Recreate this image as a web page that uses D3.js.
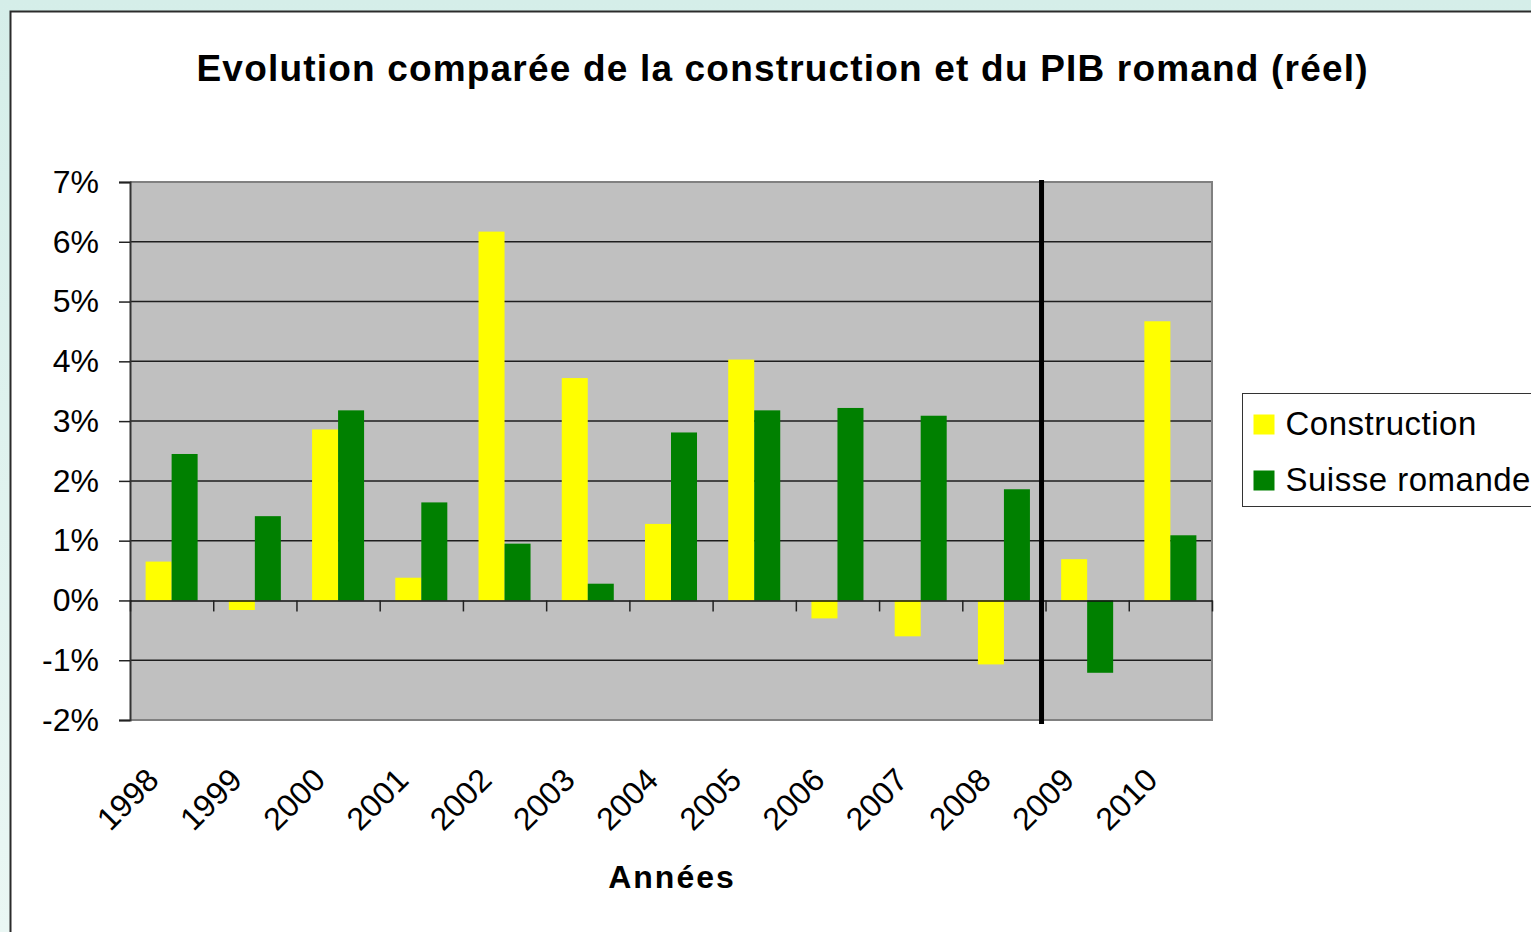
<!DOCTYPE html>
<html>
<head>
<meta charset="utf-8">
<script src="https://cdn.jsdelivr.net/npm/d3@7"></script>
<style>
  body { margin: 0; background: #d6efea; }
  svg { display: block; font-family: "Liberation Sans", Arial, sans-serif; }
</style>
</head>
<body>
<svg id="chart"></svg>
<script>
var years = ["1998", "1999", "2000", "2001", "2002", "2003", "2004", "2005", "2006", "2007", "2008", "2009", "2010"];
var construction = [0.65, -0.16, 2.86, 0.38, 6.17, 3.72, 1.28, 4.03, -0.3, -0.6, -1.07, 0.69, 4.67];
var romande = [2.45, 1.41, 3.18, 1.64, 0.95, 0.28, 2.81, 3.18, 3.22, 3.09, 1.86, -1.21, 1.09];
var seriesNames = ["Construction", "Suisse romande"];
var yTicks = [-2, -1, 0, 1, 2, 3, 4, 5, 6, 7];

var svgWidth = 1531;
var svgHeight = 932;
var margin = { top: 182, right: 319, bottom: 212, left: 130 };
var width = svgWidth - margin.left - margin.right;
var height = svgHeight - margin.top - margin.bottom;
var colors = { "Construction": "#ffff00", "Suisse romande": "#008000" };

var svg = d3.select("#chart")
  .attr("width", svgWidth)
  .attr("height", svgHeight);

// mint background + white frame of the chart
var defs = svg.append("defs");
var grad = defs.append("linearGradient").attr("id", "bg").attr("x1", 0).attr("y1", 0).attr("x2", 0).attr("y2", 1);
grad.append("stop").attr("offset", "0%").attr("stop-color", "#d5eee9");
grad.append("stop").attr("offset", "100%").attr("stop-color", "#eaf7f4");
svg.append("rect").attr("width", svgWidth).attr("height", svgHeight).attr("fill", "url(#bg)");
svg.append("rect")
  .attr("x", 10.5).attr("y", 11.5)
  .attr("width", 1560).attr("height", 960)
  .attr("fill", "#fff")
  .attr("stroke", "#2b2b2b")
  .attr("stroke-width", 2);

// title
svg.append("text")
  .attr("x", 782)
  .attr("y", 81)
  .attr("text-anchor", "middle")
  .attr("font-size", "37px")
  .attr("font-weight", "bold")
  .attr("textLength", 1171)
  .attr("lengthAdjust", "spacing")
  .text("Evolution comparée de la construction et du PIB romand (réel)");

var chartGroup = svg.append("g")
  .attr("transform", `translate(${margin.left}, ${margin.top})`);

// scales
var x0 = d3.scaleBand().domain(years).range([0, width]).padding(0);
var x1 = d3.scaleBand().domain(seriesNames).range([0, x0.bandwidth()]).paddingInner(0).paddingOuter(0.6);
var yScale = d3.scaleLinear().domain([-2, 7]).range([height, 0]);
var xIdx = d3.scaleLinear().domain([0, years.length]).range([0, width]);

// plot background
chartGroup.append("rect")
  .attr("width", width).attr("height", height)
  .attr("fill", "#c0c0c0");

// gridlines
chartGroup.selectAll(".grid")
  .data(yTicks.filter(d => d > -2 && d < 7 && d !== 0))
  .enter()
  .append("line")
  .attr("x1", 0).attr("x2", width)
  .attr("y1", d => yScale(d)).attr("y2", d => yScale(d))
  .attr("stroke", "#1e1e1e")
  .attr("stroke-width", 1.5);

// plot border (top, right, bottom)
chartGroup.append("path")
  .attr("d", `M0,0H${width}V${height}H0`)
  .attr("fill", "none")
  .attr("stroke", "#808080")
  .attr("stroke-width", 2);

// bars
var rows = years.map((y, i) => ({ year: y, values: [
  { key: "Construction", value: construction[i] },
  { key: "Suisse romande", value: romande[i] }
]}));

var groups = chartGroup.selectAll(".year")
  .data(rows)
  .enter()
  .append("g")
  .attr("transform", d => `translate(${x0(d.year)},0)`);

groups.selectAll("rect")
  .data(d => d.values)
  .enter()
  .append("rect")
  .attr("x", d => x1(d.key))
  .attr("width", x1.bandwidth())
  .attr("y", d => yScale(Math.max(0, d.value)))
  .attr("height", d => Math.abs(yScale(d.value) - yScale(0)))
  .attr("fill", d => colors[d.key]);

// y axis
var leftAxis = d3.axisLeft(yScale)
  .tickValues(yTicks)
  .tickSize(11)
  .tickPadding(20)
  .tickFormat(d => d + "%");
var yAxisG = chartGroup.append("g").call(leftAxis);
yAxisG.select(".domain").attr("stroke", "#333").attr("stroke-width", 2);
yAxisG.selectAll(".tick line").attr("stroke", "#222").attr("stroke-width", 1.5);
yAxisG.selectAll("text")
  .attr("font-size", "32px")
  .attr("font-family", "Liberation Sans, Arial, sans-serif")
  .attr("fill", "#000");

// zero line with category separators
var bottomAxis = d3.axisBottom(xIdx)
  .tickValues(d3.range(years.length + 1))
  .tickSize(11)
  .tickSizeOuter(0)
  .tickFormat("");
var xAxisG = chartGroup.append("g")
  .attr("transform", `translate(0, ${yScale(0)})`)
  .call(bottomAxis);
xAxisG.select(".domain").attr("stroke", "#111").attr("stroke-width", 1.5);
xAxisG.selectAll(".tick line").attr("stroke", "#222").attr("stroke-width", 1.5);

// year labels, rotated
chartGroup.selectAll(".ylabel")
  .data(years)
  .enter()
  .append("text")
  .attr("transform", d => `translate(${x0(d) + x0.bandwidth() / 2 - 11}, ${height + 62}) rotate(-45)`)
  .attr("text-anchor", "end")
  .attr("font-size", "32px")
  .text(d => d);

// vertical separator before 2009
chartGroup.append("line")
  .attr("x1", x0("2009") - 4).attr("x2", x0("2009") - 4)
  .attr("y1", -2).attr("y2", height + 4)
  .attr("stroke", "#000")
  .attr("stroke-width", 5);

// x axis title
chartGroup.append("text")
  .attr("x", width / 2 + 1)
  .attr("y", height + 168)
  .attr("text-anchor", "middle")
  .attr("font-size", "32px")
  .attr("font-weight", "bold")
  .attr("letter-spacing", "2px")
  .text("Années");

// legend
var legend = svg.append("g").attr("transform", "translate(1242.5, 393.5)");
legend.append("rect")
  .attr("width", 320).attr("height", 113)
  .attr("fill", "#fff")
  .attr("stroke", "#333")
  .attr("stroke-width", 1);
var items = legend.selectAll(".item")
  .data(seriesNames)
  .enter()
  .append("g")
  .attr("transform", (d, i) => `translate(11, ${21 + i * 56})`);
items.append("rect")
  .attr("width", 21).attr("height", 20)
  .attr("fill", d => colors[d]);
items.append("text")
  .attr("x", 32)
  .attr("y", 20)
  .attr("font-size", "33px")
  .attr("letter-spacing", "0.5px")
  .text(d => d);
</script>
</body>
</html>
